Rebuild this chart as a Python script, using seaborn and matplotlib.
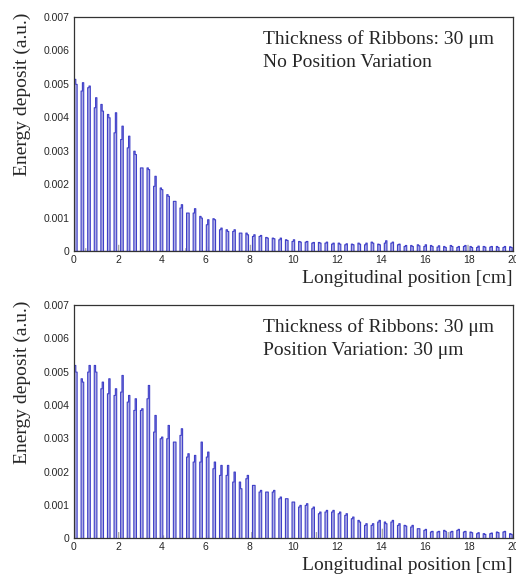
import numpy as np
import pandas as pd
import matplotlib
matplotlib.use('Agg')
import matplotlib.pyplot as plt
from matplotlib.ticker import MultipleLocator, FuncFormatter
import seaborn as sns

# ── Data: energy deposit per ribbon (two bins per ribbon) ──
RIBBON_PITCH = 0.3   # cm
BIN_W = 0.06         # cm
ribbon_pos = np.round(np.arange(67) * RIBBON_PITCH, 2)

top_bin_a = [0.00515, 0.0048, 0.0049, 0.0043, 0.0044, 0.0041, 0.00355, 0.00335, 0.0031, 0.0030,
             0.0025, 0.0025, 0.00195, 0.0019, 0.0017, 0.0015, 0.0013, 0.00115, 0.00115, 0.00105,
             0.0008, 0.00098, 0.00065, 0.00065, 0.0006, 0.00055, 0.00055, 0.00045, 0.00045, 0.00042,
             0.0004, 0.00035, 0.00035, 0.0003, 0.0003, 0.00028, 0.00025, 0.00027, 0.00025, 0.00022,
             0.00025, 0.0002, 0.00022, 0.00025, 0.0002, 0.00028, 0.00022, 0.00025, 0.00025, 0.0002,
             0.00015, 0.00018, 0.0002, 0.00015, 0.00018, 0.00013, 0.00015, 0.00018, 0.00012, 0.00015,
             0.00015, 0.00012, 0.00015, 0.00013, 0.00015, 0.00012, 0.00014]
top_bin_b = [0.0050, 0.00505, 0.00495, 0.0046, 0.0042, 0.0040, 0.00415, 0.00375, 0.00345, 0.0029,
             0.0025, 0.00245, 0.00225, 0.00185, 0.00165, 0.0015, 0.0014, 0.00115, 0.00128, 0.0010,
             0.00095, 0.00095, 0.0007, 0.0006, 0.00065, 0.00055, 0.0005, 0.0005, 0.00048, 0.0004,
             0.00038, 0.0004, 0.00033, 0.00035, 0.00028, 0.0003, 0.00027, 0.00025, 0.00028, 0.00025,
             0.00022, 0.00023, 0.0002, 0.00022, 0.00025, 0.00025, 0.0002, 0.00032, 0.00028, 0.00022,
             0.00018, 0.00015, 0.00017, 0.0002, 0.00015, 0.00017, 0.00012, 0.00015, 0.00015, 0.00018,
             0.00012, 0.00016, 0.00013, 0.00015, 0.00012, 0.00015, 0.00012]

bot_bin_a = [0.0052, 0.0048, 0.0050, 0.0052, 0.0045, 0.00435, 0.0043, 0.0044, 0.0041, 0.00385,
             0.00385, 0.0042, 0.0032, 0.0030, 0.0030, 0.0029, 0.0031, 0.00245, 0.0023, 0.0023,
             0.00245, 0.0021, 0.0019, 0.0019, 0.0017, 0.0017, 0.0018, 0.0016, 0.0014, 0.0014,
             0.0014, 0.0012, 0.0012, 0.0011, 0.00095, 0.0010, 0.0009, 0.00075, 0.0008, 0.0008,
             0.00075, 0.0007, 0.0006, 0.00055, 0.0004, 0.0004, 0.0005, 0.0005, 0.0005, 0.0004,
             0.0004, 0.00035, 0.0003, 0.00025, 0.0002, 0.0002, 0.00025, 0.0002, 0.00025, 0.0002,
             0.0002, 0.00015, 0.00015, 0.00015, 0.0002, 0.0002, 0.00015]
bot_bin_b = [0.0050, 0.0047, 0.0052, 0.0050, 0.0047, 0.0048, 0.0045, 0.0049, 0.0043, 0.0042,
             0.0039, 0.0046, 0.0037, 0.00305, 0.0034, 0.0029, 0.0033, 0.00255, 0.0025, 0.0029,
             0.0026, 0.0023, 0.0022, 0.0022, 0.0020, 0.0015, 0.0019, 0.0016, 0.00145, 0.0014,
             0.00145, 0.00125, 0.0012, 0.0011, 0.0010, 0.00105, 0.00095, 0.0008, 0.00085, 0.00085,
             0.0008, 0.00075, 0.00065, 0.0005, 0.00045, 0.00045, 0.00055, 0.00045, 0.00055, 0.00045,
             0.00038, 0.0004, 0.0003, 0.00028, 0.00022, 0.00022, 0.00022, 0.00022, 0.00028, 0.00022,
             0.00018, 0.00018, 0.00013, 0.00017, 0.00018, 0.00022, 0.00013]

# small grey deposits between the ribbons
top_grey_pos = [0.5, 2.0, 5.05, 6.05, 8.0, 11.1, 14.1, 16.2, 17.9]
top_grey_val = [0.0001, 0.0002, 0.0001, 0.00015, 0.0002, 0.0001, 0.0002, 0.0001, 0.0002]
bot_grey_pos = [0.95, 2.0, 4.0, 6.05, 8.05, 11.0, 12.6, 14.0, 15.6, 17.0, 18.6]
bot_grey_val = [0.0001, 0.0002, 0.0001, 0.0001, 0.0002, 0.0002, 0.0001, 0.0003, 0.0001, 0.0002, 0.00015]

panel_text = [['Thickness of Ribbons: 30 μm', 'No Position Variation'],
              ['Thickness of Ribbons: 30 μm', 'Position Variation: 30 μm']]

LINE_COL = '#3f3fc8'
FILL_COL = '#a8a8e2'
GREY_COL = '#a6a6a6'


def ribbon_frame(bin_a, bin_b):
    x = np.concatenate([ribbon_pos + BIN_W / 2, ribbon_pos + 1.5 * BIN_W])
    w = np.concatenate([bin_a, bin_b])
    return pd.DataFrame({'x': x, 'w': w})


def draw_panel(ax, bin_a, bin_b, grey_pos, grey_val, texts):
    df = ribbon_frame(bin_a, bin_b)
    grey = pd.DataFrame({'x': np.array(grey_pos) + BIN_W / 2, 'w': grey_val})
    sns.histplot(data=grey, x='x', weights='w', binwidth=BIN_W, binrange=(0, 20),
                 element='step', fill=True, color=GREY_COL, alpha=1, linewidth=0, ax=ax)
    sns.histplot(data=df, x='x', weights='w', binwidth=BIN_W, binrange=(0, 20),
                 element='step', fill=True, color=FILL_COL, alpha=0.9,
                 edgecolor=LINE_COL, linewidth=0.8, ax=ax)

    ax.set_xlim(0, 20)
    ax.set_ylim(0, 0.007)
    ax.xaxis.set_major_locator(MultipleLocator(2))
    ax.xaxis.set_minor_locator(MultipleLocator(0.4))
    ax.yaxis.set_major_locator(MultipleLocator(0.001))
    ax.yaxis.set_minor_locator(MultipleLocator(0.0002))
    ax.yaxis.set_major_formatter(FuncFormatter(lambda v, p: '0' if abs(v) < 1e-9 else f'{v:.3f}'))
    ax.tick_params(axis='both', which='both', direction='in', top=False, right=False,
                   color='#222222', labelsize=7.5, width=0.8)
    ax.tick_params(axis='y', which='major', length=13, pad=3)
    ax.tick_params(axis='y', which='minor', length=7)
    ax.tick_params(axis='x', which='major', length=7, pad=3)
    ax.tick_params(axis='x', which='minor', length=3.5)
    for lab in ax.get_xticklabels() + ax.get_yticklabels():
        lab.set_family(['Liberation Sans', 'DejaVu Sans'])
    for s in ax.spines.values():
        s.set_color('#333333')
        s.set_linewidth(0.9)

    serif = ['Liberation Serif', 'DejaVu Serif']
    ax.set_xlabel('Longitudinal position [cm]', fontsize=14, family=serif)
    ax.xaxis.set_label_coords(1.0, -0.08)
    ax.xaxis.label.set_horizontalalignment('right')
    ax.set_ylabel('Energy deposit (a.u.)', fontsize=14, family=serif)
    ax.yaxis.set_label_coords(-0.098, 1.02)
    ax.yaxis.label.set_horizontalalignment('right')
    ax.text(0.43, 0.905, texts[0], transform=ax.transAxes, fontsize=14, family=serif,
            va='center', ha='left')
    ax.text(0.43, 0.805, texts[1], transform=ax.transAxes, fontsize=14, family=serif,
            va='center', ha='left')


if __name__ == '__main__':
    sns.set_style('white')
    fig = plt.figure(figsize=(5.16, 5.75), dpi=100)
    ax1 = fig.add_axes([0.1434, 0.5635, 0.8508, 0.4069])
    ax2 = fig.add_axes([0.1434, 0.0640, 0.8508, 0.4056])

    draw_panel(ax1, top_bin_a, top_bin_b, top_grey_pos, top_grey_val, panel_text[0])
    draw_panel(ax2, bot_bin_a, bot_bin_b, bot_grey_pos, bot_grey_val, panel_text[1])

    fig.savefig('out.png', dpi=100)
